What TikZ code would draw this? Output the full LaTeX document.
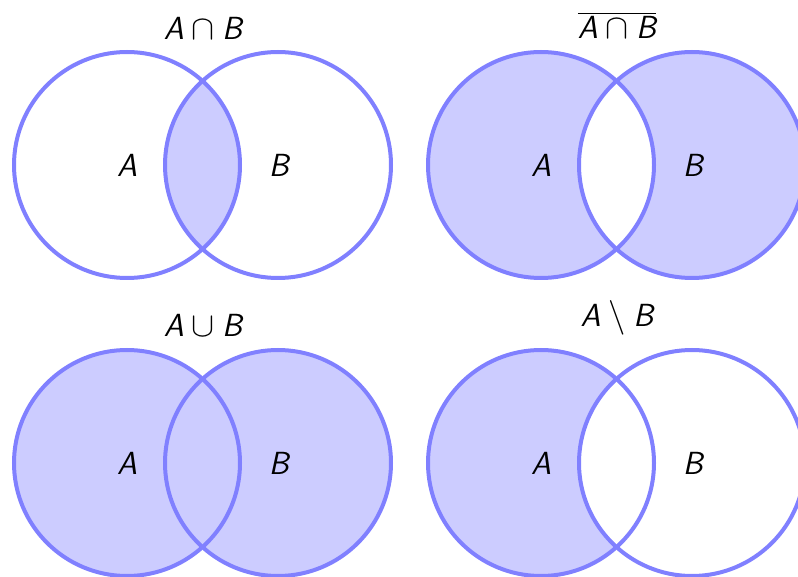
\documentclass[tikz,border=0pt]{standalone}
\tikzset{
  setline/.style={draw=blue!50, line width=2pt},
  setfill/.style={fill=blue!20},
  setlabel/.style={font=\fontsize{16}{19}\selectfont\sffamily\itshape},
}
\newcommand{\sA}{\textsf{\itshape A}}
\newcommand{\sB}{\textsf{\itshape B}}
\begin{document}
\begin{tikzpicture}[x=0.5pt, y=-0.5pt]
\clip (0,0) rectangle (798,577);
\useasboundingbox (0,0) rectangle (798,577);
% intersection
\begin{scope}
\clip (127,165) circle[radius=113];
\fill[setfill] (278,165) circle[radius=113];
\end{scope}
\draw[setline] (127,165) circle[radius=113];
\draw[setline] (278,165) circle[radius=113];
\node[setlabel] (lA1) at (127,165){A};
\node[setlabel] (lB1) at (279,165){B};
\node[setlabel] (t1) at (203,28){$\sA\cap\sB$};
% complement of intersection
\fill[setfill] (541,165) circle[radius=113];
\fill[setfill] (692,165) circle[radius=113];
\begin{scope}
\clip (541,165) circle[radius=113];
\fill[white] (692,165) circle[radius=113];
\end{scope}
\draw[setline] (541,165) circle[radius=113];
\draw[setline] (692,165) circle[radius=113];
\node[setlabel] (lA2) at (541,165){A};
\node[setlabel] (lB2) at (693,165){B};
\node[setlabel] (t2) at (617,25){$\overline{\sA\cap\sB}$};
% union
\fill[setfill] (127,463) circle[radius=113];
\fill[setfill] (278,463) circle[radius=113];
\draw[setline] (127,463) circle[radius=113];
\draw[setline] (278,463) circle[radius=113];
\node[setlabel] (lA3) at (127,463){A};
\node[setlabel] (lB3) at (279,463){B};
\node[setlabel] (t3) at (203,325){$\sA\cup\sB$};
% difference
\fill[setfill] (541,463) circle[radius=113];
\fill[white] (692,463) circle[radius=113];
\draw[setline] (541,463) circle[radius=113];
\draw[setline] (692,463) circle[radius=113];
\node[setlabel] (lA4) at (541,463){A};
\node[setlabel] (lB4) at (693,463){B};
\node[setlabel] (t4) at (617,318){$\sA\setminus\sB$};
\end{tikzpicture}
\end{document}
